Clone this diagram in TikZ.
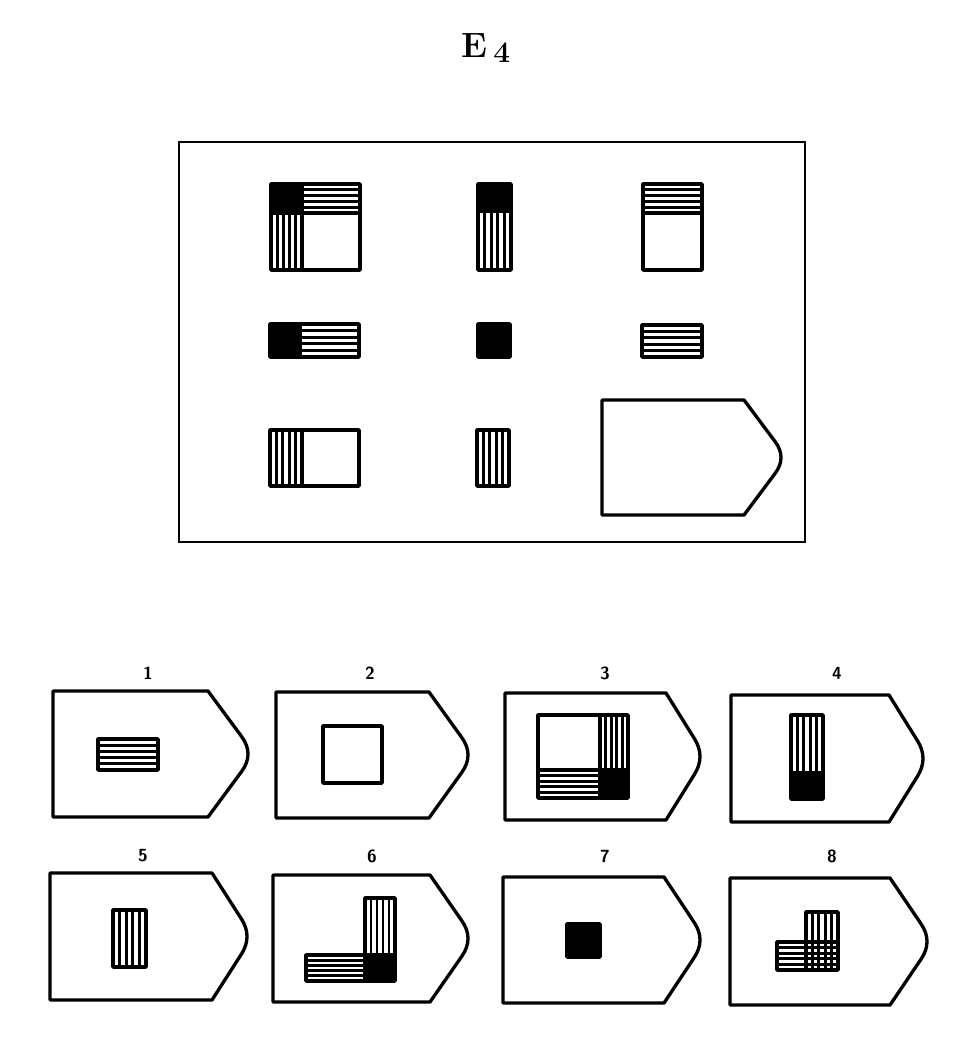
\documentclass[tikz,border=0pt]{standalone}
\usepackage{tikz}
\usetikzlibrary{calc}

% striped boxes: x1 y1 x2 y2
\newcommand{\hstripes}[4]{%
  \foreach \k in {1,...,4}
    \draw[stripe] (#1,{#2+\k*(#4-#2)/5}) -- (#3,{#2+\k*(#4-#2)/5});}
\newcommand{\vstripes}[4]{%
  \foreach \k in {1,...,4}
    \draw[stripe] ({#1+\k*(#3-#1)/5},#2) -- ({#1+\k*(#3-#1)/5},#4);}
% tag outline: left top corner tip bottom
\newcommand{\tagshape}[5]{%
  \coordinate (v) at ({#4+0.163*(#4-#3)},{(#2+#5)/2});
  \coordinate (a) at ($(#3,#2)!0.72!(v)$);
  \coordinate (b) at ($(#3,#5)!0.72!(v)$);
  \draw[tag] (#1,#2) -- (#3,#2) -- (a)
    .. controls ($(a)!0.667!(v)$) and ($(b)!0.667!(v)$) .. (b)
    -- (#3,#5) -- (#1,#5) -- cycle;}

\begin{document}
\begin{tikzpicture}[x=0.02cm, y=-0.02cm,
    box/.style={line width=2pt, line join=round},
    stripe/.style={line width=1.5pt},
    dark/.style={fill=black},
    tag/.style={line width=1.9pt, line join=round},
    frame/.style={line width=1.4pt},
    num/.style={font=\fontsize{10}{12}\selectfont\sffamily\bfseries}]
\useasboundingbox (0,0) rectangle (962,1052);

\node (title) at (486,48) {\fontsize{20}{24}\selectfont\bfseries E\,\raisebox{-0.35ex}{\fontsize{17}{20}\selectfont 4}};

% the matrix
\draw[frame] (179,142) rectangle (805,542);

% row 1
\fill[dark] (271,184) rectangle (302,213);
\hstripes{302}{184}{360}{213}
\vstripes{271}{213}{302}{270}
\draw[box] (271,213) -- (360,213) (302,184) -- (302,270);
\draw[box] (271,184) rectangle (360,270);

\fill[dark] (478,184) rectangle (511,213);
\vstripes{478}{213}{511}{270}
\draw[box] (478,184) rectangle (511,270);

\hstripes{643}{184}{702}{213}
\draw[box] (643,213) -- (702,213);
\draw[box] (643,184) rectangle (702,270);

% row 2
\fill[dark] (270,324) rectangle (302,357);
\hstripes{302}{324}{359}{357}
\draw[box] (270,324) rectangle (359,357);

\fill[dark] (478,324) rectangle (510,357);
\draw[box] (478,324) rectangle (510,357);

\hstripes{642}{325}{702}{357}
\draw[box] (642,325) rectangle (702,357);

% row 3
\vstripes{270}{430}{302}{486}
\draw[box] (302,430) -- (302,486);
\draw[box] (270,430) rectangle (359,486);

\vstripes{477}{430}{509}{486}
\draw[box] (477,430) rectangle (509,486);

\tagshape{602}{400}{744}{781}{515}

% answers
\node[num] (n1) at (148,673) {1};
\node[num] (n2) at (370,673) {2};
\node[num] (n3) at (605,673) {3};
\node[num] (n4) at (837,673) {4};
\node[num] (n5) at (143,856) {5};
\node[num] (n6) at (372,856) {6};
\node[num] (n7) at (605,856) {7};
\node[num] (n8) at (832,856) {8};

\tagshape{53}{691}{208}{248}{817}
\hstripes{98}{739}{158}{770}
\draw[box] (98,739) rectangle (158,770);

\tagshape{276}{692}{429}{468}{818}
\draw[box] (323,726) rectangle (382,783);

\tagshape{505}{693}{666}{700}{820}
\fill[dark] (600,770) rectangle (628,798);
\vstripes{600}{715}{628}{770}
\hstripes{538}{770}{600}{798}
\draw[box] (538,770) -- (628,770) (600,715) -- (600,798);
\draw[box] (538,715) rectangle (628,798);

\tagshape{731}{695}{889}{923}{822}
\vstripes{791}{715}{823}{771}
\fill[dark] (791,771) rectangle (823,799);
\draw[box] (791,715) rectangle (823,799);

\tagshape{50}{873}{212}{247}{1000}
\vstripes{113}{910}{146}{967}
\draw[box] (113,910) rectangle (146,967);

\tagshape{273}{875}{430}{468}{1002}
\vstripes{365}{898}{395}{955}
\hstripes{306}{955}{365}{981}
\fill[dark] (365,955) rectangle (395,981);
\draw[box] (365,955) -- (395,955) (365,955) -- (365,981);
\draw[box] (365,898) -- (395,898) -- (395,981) -- (306,981) -- (306,955) -- (365,955) -- cycle;

\tagshape{503}{877}{664}{700}{1003}
\fill[dark] (567,924) rectangle (600,957);
\draw[box] (567,924) rectangle (600,957);

\tagshape{730}{878}{890}{927}{1005}
\vstripes{806}{912}{838}{970}
\hstripes{777}{942}{838}{970}
\draw[box] (806,942) -- (838,942) (806,942) -- (806,970);
\draw[box] (806,912) -- (838,912) -- (838,970) -- (777,970) -- (777,942) -- (806,942) -- cycle;
\end{tikzpicture}
\end{document}
